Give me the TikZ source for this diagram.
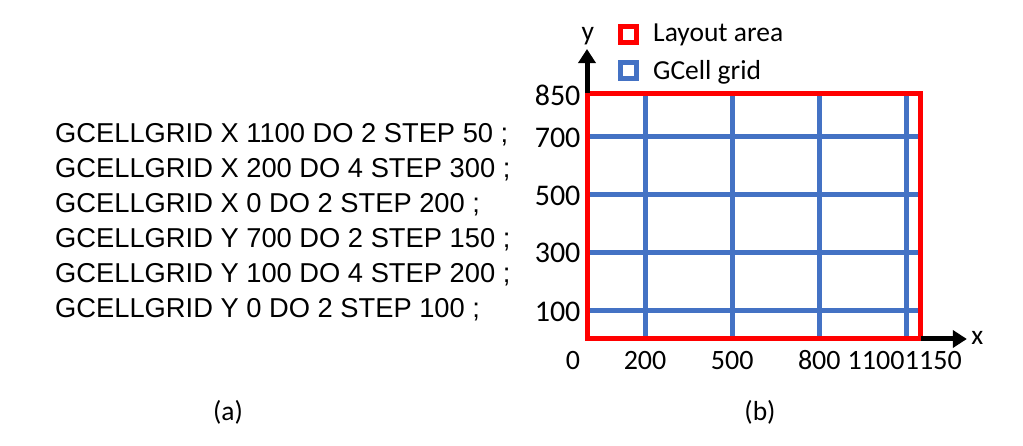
\documentclass[tikz,border=0pt]{standalone}
\usepackage{fontspec}
\setmainfont{Carlito}
\newfontfamily\arialf{Liberation Sans}
\usetikzlibrary{arrows.meta}
\definecolor{layoutc}{HTML}{FF0000}
\definecolor{gcellc}{HTML}{4472C4}
\tikzstyle{txtlabel} = [
  font=\fontsize{27.5}{30}\selectfont,
  inner sep=0pt,
]
\tikzstyle{ytick} = [
  txtlabel,
  anchor=base east,
  font=\fontsize{30}{32}\selectfont,
]
\tikzstyle{xtick} = [
  txtlabel,
  anchor=base,
  font=\fontsize{28}{30}\selectfont,
]
\tikzstyle{legbox} = [
  draw,
  line width=5pt,
  minimum size=16pt,
  inner sep=0pt,
]
\tikzstyle{axis} = [
  line width=5pt,
  -{Triangle[length=14pt,width=17pt]},
]

\begin{document}
\begin{tikzpicture}[x=1pt, y=1pt]
    \useasboundingbox (0,0) rectangle (1023,446);

    % Commands
    \node[anchor=base west, inner sep=0pt, align=left,
      font=\arialf\fontsize{27.3}{35}\selectfont] (cmds) at (55,128)
      {GCELLGRID X 1100 DO 2 STEP 50 ;\\
       GCELLGRID X 200 DO 4 STEP 300 ;\\
       GCELLGRID X 0 DO 2 STEP 200 ;\\
       GCELLGRID Y 700 DO 2 STEP 150 ;\\
       GCELLGRID Y 100 DO 4 STEP 200 ;\\
       GCELLGRID Y 0 DO 2 STEP 100 ;};

    \begin{scope}[shift={(587pt,107pt)}, x=0.2904pt, y=0.2894pt]
        \coordinate (O) at (0,0);
        \coordinate (X) at (1150,0);
        \coordinate (Y) at (0,850);
        \coordinate (Xtip) at (1308,0);
        \coordinate (Ytip) at (0,1002);

        % GCell grid
        \draw[gcellc, line width=5pt]
          (200,0) -- (200,850)
          (500,0) -- (500,850)
          (800,0) -- (800,850)
          (1100,0) -- (1100,850)
          (0,100) -- (1150,100)
          (0,300) -- (1150,300)
          (0,500) -- (1150,500)
          (0,700) -- (1150,700);

        % Layout area
        \draw[layoutc, line width=5pt] (O) rectangle (1150,850);

        % Axes
        \draw[axis] (Y) -- (Ytip);
        \draw[axis] (X) -- (Xtip);
        \node[txtlabel] (ylab) at (3,1045) {y};
        \node[txtlabel] (xlab) at (1344,2) {x};

        % Ticks
        \node[ytick] (y850) at (-22,808) {850};
        \node[ytick] (y700) at (-22,663) {700};
        \node[ytick] (y500) at (-22,460) {500};
        \node[ytick] (y300) at (-22,263) {300};
        \node[ytick] (y100) at (-22,62) {100};
        \node[xtick] (x0) at (-48,-104) {0};
        \node[xtick] (x200) at (200,-104) {200};
        \node[xtick] (x500) at (500,-104) {500};
        \node[xtick] (x800) at (800,-104) {800};
        \node[xtick, anchor=base east] (x1100) at (1094,-104) {1100};
        \node[xtick, anchor=base west] (x1150) at (1094,-104) {1150};
    \end{scope}

    % Legend
    \node[legbox, layoutc] (leglayout) at (628.5,411.5) {};
    \node[txtlabel, anchor=west] (txtlayout) at (653,411) {Layout area};
    \node[legbox, gcellc] (leggcell) at (628.5,375.5) {};
    \node[txtlabel, anchor=west] (txtgcell) at (653,374) {GCell grid};

    % Captions
    \node[txtlabel] (capa) at (228,34) {(a)};
    \node[txtlabel] (capb) at (760,34) {(b)};
\end{tikzpicture}
\end{document}
